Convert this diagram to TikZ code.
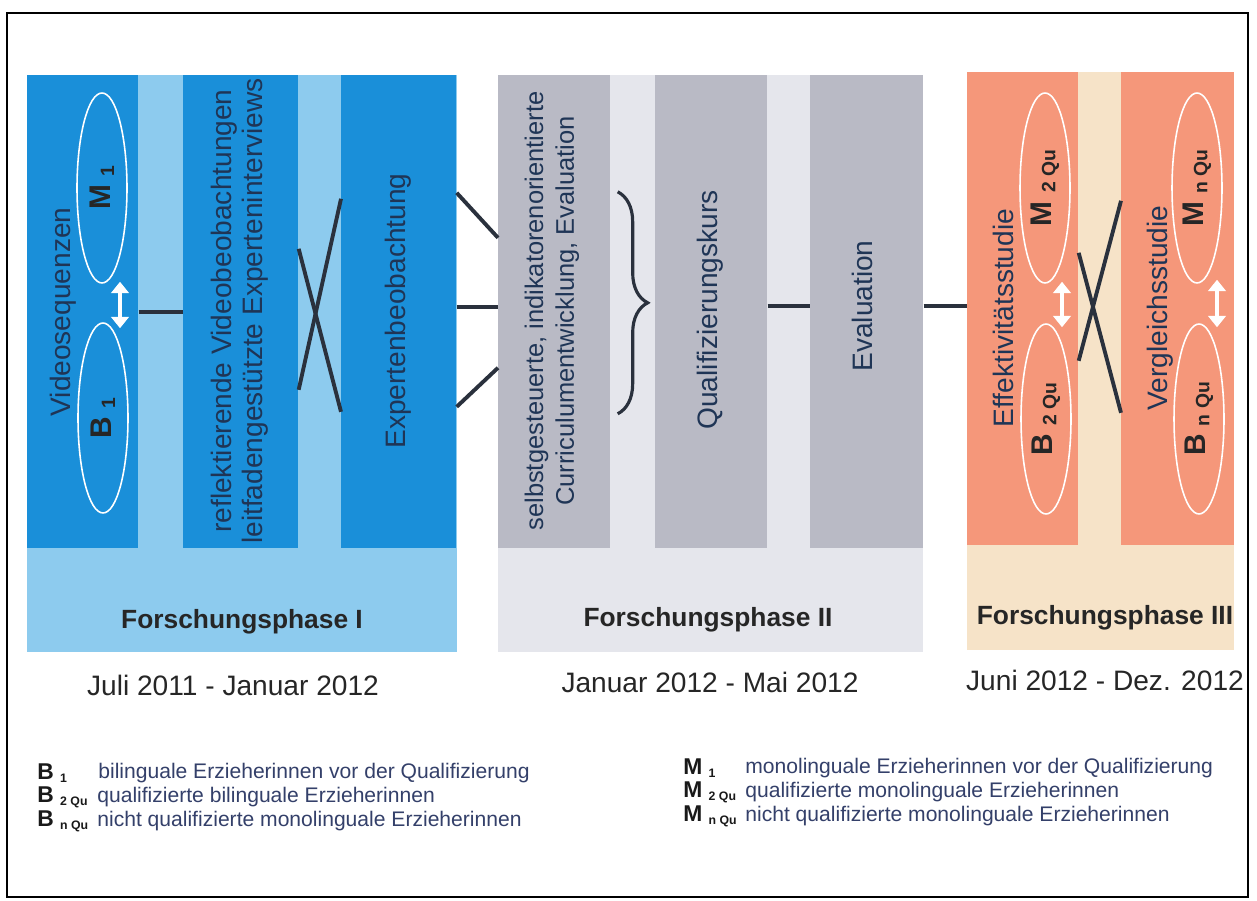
\documentclass[tikz,border=0pt]{standalone}
\usepackage{fontspec}
\setmainfont{Liberation Sans}
\usetikzlibrary{arrows.meta,positioning,shapes.geometric,calc,decorations.pathreplacing}

\definecolor{blaudunkel}{HTML}{1A8FD9}
\definecolor{blauhell}{HTML}{8DCBEE}
\definecolor{graudunkel}{HTML}{B9BAC5}
\definecolor{grauhell}{HTML}{E5E6EC}
\definecolor{lachs}{HTML}{F5977A}
\definecolor{beige}{HTML}{F6E3C8}
\definecolor{schrift}{HTML}{1F3556}
\definecolor{linie}{HTML}{2A313D}
\definecolor{legende}{HTML}{34406A}

% Gruppe mit tiefgestelltem Index
\newcommand{\grp}[3][9]{\textbf{#2\;\raisebox{-0.25ex}{\fontsize{#1}{#1}\selectfont #3}}}

\begin{document}
\begin{tikzpicture}[x=0.02cm, y=-0.02cm, >=Triangle,
  saeule/.style={anchor=north west, inner sep=0pt, minimum height=9.46cm},
  flaeche/.style={anchor=north west, inner sep=0pt, minimum height=11.54cm},
  senkrecht/.style={rotate=90, align=center, text=schrift, font=\fontsize{16}{17.5}\selectfont},
  oval/.style={ellipse, draw=white, line width=0.9pt, rotate=90, inner sep=0pt,
    minimum width=3.8cm, minimum height=1cm, text=black!85, font=\fontsize{17}{17}\selectfont},
  verb/.style={draw=linie, line width=2.2pt},
  doppel/.style={white, line width=2.6pt, {Triangle[width=10pt,length=6.5pt]}-{Triangle[width=10pt,length=6.5pt]}},
  phase/.style={font=\fontsize{15}{15}\selectfont\bfseries, text=black!85},
  zeit/.style={font=\fontsize{16}{16}\selectfont, text=black!85},
  schluessel/.style={anchor=west, inner sep=0pt, font=\fontsize{13}{13}\selectfont, text=black!90},
  erklaer/.style={anchor=west, inner sep=0pt, font=\fontsize{12}{12}\selectfont, text=legende}]

  \useasboundingbox[fill=white] (0,0) rectangle (1257,901);
  \draw[line width=1.2pt] (7,13) rectangle (1248,897);

  % Forschungsphase I
  \node[flaeche, fill=blauhell, minimum width=8.6cm] (bgI) at (27,75) {};
  \node[saeule, fill=blaudunkel, minimum width=2.22cm] (vid) at (27,75) {};
  \node[saeule, fill=blaudunkel, minimum width=2.3cm] (refl) at (183,75) {};
  \node[saeule, fill=blaudunkel, minimum width=2.3cm] (expb) at (341,75) {};
  \node[senkrecht] (tvid) at (63,312) {Videosequenzen};
  \node[oval] (m1) at (102,188) {\grp[11]{M}{1}};
  \node[oval] (b1) at (103,418) {\grp[11]{B}{1}};
  \node[senkrecht] (trefl) at (240,311) {reflektierende Videobeobachtungen\\leitfadengestützte Experteninterviews};
  \node[senkrecht] (texpb) at (398,311) {Expertenbeobachtung};
  \node[phase] (phI) at (242,622) {Forschungsphase I};
  \node[zeit] (zI) at (233,685) {Juli 2011 - Januar 2012};

  % Forschungsphase II
  \node[flaeche, fill=grauhell, minimum width=8.5cm] (bgII) at (498,75) {};
  \node[saeule, fill=graudunkel, minimum width=2.24cm] (curr) at (498,75) {};
  \node[saeule, fill=graudunkel, minimum width=2.24cm] (quali) at (655,75) {};
  \node[saeule, fill=graudunkel, minimum width=2.26cm] (eval) at (810,75) {};
  \node[senkrecht, font=\fontsize{14.5}{17.5}\selectfont] (tcurr) at (552,311) {selbstgesteuerte, indikatorenorientierte\\Curriculumentwicklung, Evaluation};
  \node[senkrecht] (tquali) at (710,310) {Qualifizierungskurs};
  \node[senkrecht] (teval) at (862,306) {Evaluation};
  \node[phase] (phII) at (708,620) {Forschungsphase II};
  \node[zeit] (zII) at (710,682) {Januar 2012 - Mai 2012};

  % Forschungsphase III
  \node[flaeche, fill=beige, minimum width=5.34cm, minimum height=11.56cm] (bgIII) at (967,72) {};
  \node[saeule, fill=lachs, minimum width=2.22cm] (effekt) at (967,72) {};
  \node[saeule, fill=lachs, minimum width=2.26cm] (vergl) at (1121,72) {};
  \node[senkrecht] (teffekt) at (1003,318) {Effektivitätsstudie};
  \node[senkrecht] (tvergl) at (1160,308) {Vergleichsstudie};
  \node[oval] (m2) at (1045,188) {\grp[11]{M}{2 Qu}};
  \node[oval] (b2) at (1046,419) {\grp[11]{B}{2 Qu}};
  \node[oval] (mn) at (1197,188) {\grp[11]{M}{n Qu}};
  \node[oval] (bn) at (1199,419) {\grp[11]{B}{n Qu}};
  \node[phase] (phIII) at (1105,618) {Forschungsphase III};
  \node[zeit] (zIII) at (1105,680) {Juni 2012 - Dez. 2012};

  % Verbindungen
  \draw[verb] (vid.east) -- (refl.west);
  \draw[verb] ($(refl.east)+(0,-63)$) -- ($(expb.west)+(0,100)$);
  \draw[verb] ($(refl.east)+(0,78)$) -- ($(expb.west)+(0,-113)$);
  \draw[verb] ($(expb.east)+(0,-119)$) -- ($(curr.west)+(0,-74)$);
  \draw[verb] ($(expb.east)+(0,-5)$) -- ($(curr.west)+(0,-5)$);
  \draw[verb] ($(expb.east)+(0,95)$) -- ($(curr.west)+(0,56)$);
  \draw[draw=linie, line width=1.8pt, decorate, decoration={brace, amplitude=0.6cm}]
    ($(curr.east)+(7,-120)$) -- ($(curr.east)+(7,102)$);
  \draw[verb] ($(quali.east)+(0,-6)$) -- ($(eval.west)+(0,-6)$);
  \draw[verb] ($(eval.east)+(0,-6)$) -- ($(effekt.west)+(0,-3)$);
  \draw[verb] ($(effekt.east)+(0,-56)$) -- ($(vergl.west)+(0,104)$);
  \draw[verb] ($(effekt.east)+(0,52)$) -- ($(vergl.west)+(0,-108)$);

  % Doppelpfeile
  \draw[doppel] ($(b1.east)+(17,6)$) -- ($(m1.west)+(18,-2)$);
  \draw[doppel] ($(b2.east)+(16,4)$) -- ($(m2.west)+(17,-2)$);
  \draw[doppel] ($(bn.east)+(18,4)$) -- ($(mn.west)+(20,-4)$);

  % Legende
  \node[schluessel] (kb1) at (37,773) {\grp[7]{B}{1}};
  \node[erklaer] (eb1) at (98,773) {bilinguale Erzieherinnen vor der Qualifizierung};
  \node[schluessel] (kb2) at (37,797) {\grp[7]{B}{2 Qu}};
  \node[erklaer] (eb2) at (97,797) {qualifizierte bilinguale Erzieherinnen};
  \node[schluessel] (kbn) at (37,821) {\grp[7]{B}{n Qu}};
  \node[erklaer] (ebn) at (97,821) {nicht qualifizierte monolinguale Erzieherinnen};
  \node[schluessel] (km1) at (683,768) {\grp[7]{M}{1}};
  \node[erklaer] (em1) at (745,768) {monolinguale Erzieherinnen vor der Qualifizierung};
  \node[schluessel] (km2) at (683,792) {\grp[7]{M}{2 Qu}};
  \node[erklaer] (em2) at (745,792) {qualifizierte monolinguale Erzieherinnen};
  \node[schluessel] (kmn) at (683,816) {\grp[7]{M}{n Qu}};
  \node[erklaer] (emn) at (745,816) {nicht qualifizierte monolinguale Erzieherinnen};
\end{tikzpicture}
\end{document}
